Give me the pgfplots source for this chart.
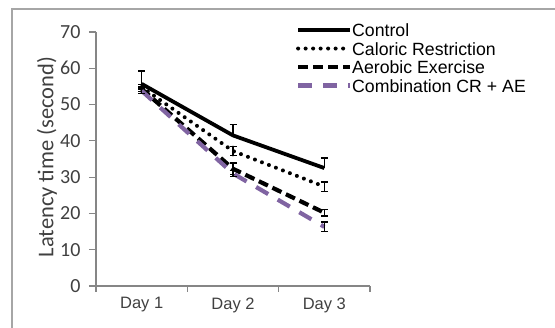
\documentclass[border=0pt]{standalone}
\usepackage{fontspec}
\setmainfont{Liberation Sans}
\newfontfamily\calibri{Carlito}
\usepackage{pgfplots}
\pgfplotsset{compat=1.18}
\definecolor{axgray}{HTML}{868686}
\definecolor{frgray}{HTML}{A6A6A6}
\definecolor{cpurple}{HTML}{8064A2}
\definecolor{txt}{HTML}{404040}
\begin{document}
\begin{tikzpicture}[x=1pt,y=1pt]
\path[use as bounding box] (0,0) rectangle (555,328);
\draw[frgray, line width=1.5pt] (12,-2) -- (12,319) -- (558,319);
\begin{axis}[
  at={(96pt,42pt)}, anchor=south west,
  scale only axis, width=274pt, height=254pt,
  xmin=0.5, xmax=3.5, ymin=0, ymax=70,
  axis x line=bottom, axis y line=left,
  axis line style={axgray, line width=1.2pt, -},
  xtick={1,2,3}, xticklabels={Day 1,Day 2,Day 3},
  minor xtick={0.5,1.5,2.5,3.5},
  ytick={0,10,...,70},
  tick align=outside,
  major tick length=7pt, minor tick length=6pt,
  major x tick style={draw=none},
  minor x tick style={axgray, line width=1.2pt},
  major y tick style={axgray, line width=1.2pt},
  /pgf/number format/assume math mode=true,
  yticklabel style={font=\calibri\fontsize{20}{20}\selectfont, text=txt, xshift=-5pt},
  xticklabel style={font=\fontsize{16.5}{16.5}\selectfont, text=txt, yshift=-1pt},
  ylabel={Latency time (second)},
  every axis y label/.style={at={(rel axis cs:0,0.5)}, xshift=-49pt, yshift=2pt, rotate=90, anchor=center,
    font=\calibri\fontsize{22.5}{22.5}\selectfont, text=txt},
  legend style={at={(rel axis cs:0.73,1.053)}, yshift=-5pt, anchor=north west, draw=none, fill=none,
    inner sep=0pt, outer sep=0pt, row sep=5.5pt, column sep=0pt,
    font=\fontsize{17.7}{17.7}\selectfont,
    nodes={inner sep=0pt, text height=13pt, text depth=0pt, anchor=west}},
  legend cell align=left,
  legend image code/.code={\draw[#1] (0pt,0pt) -- (52pt,0pt);},
  error bars/error bar style={black, line width=1.4pt, solid},
  error bars/error mark options={black, line width=1.4pt, mark size=3.5pt, rotate=90, solid},
]
\addplot[black, line width=3.8pt, error bars/.cd, y dir=plus, y explicit]
  coordinates {(1,55.7) += (0,3.5) (2,41.5) += (0,3.0) (3,32.5) += (0,2.8)};
\addlegendentry{Control}
\addplot[black, line width=4pt, line cap=round, dash pattern=on 0pt off 7.5pt, error bars/.cd, y dir=both, y explicit]
  coordinates {(1,54.8) +- (0,0.7) (2,37.2) +- (0,1.3) (3,27.4) +- (0,1.3)};
\addlegendentry{Caloric Restriction}
\addplot[black, line width=4.2pt, dash pattern=on 10pt off 5pt, error bars/.cd, y dir=both, y explicit]
  coordinates {(1,54.3) +- (0,0.7) (2,32.3) +- (0,1.6) (3,20.2) +- (0,0.9)};
\addlegendentry{Aerobic Exercise}
\addplot[cpurple, line width=4.2pt, dash pattern=on 14pt off 11pt, error bars/.cd, y dir=both, y explicit]
  coordinates {(1,53.8) +- (0,0.8) (2,31.0) +- (0,0.8) (3,16.3) +- (0,1.3)};
\addlegendentry{Combination CR + AE}
\end{axis}
\end{tikzpicture}
\end{document}
